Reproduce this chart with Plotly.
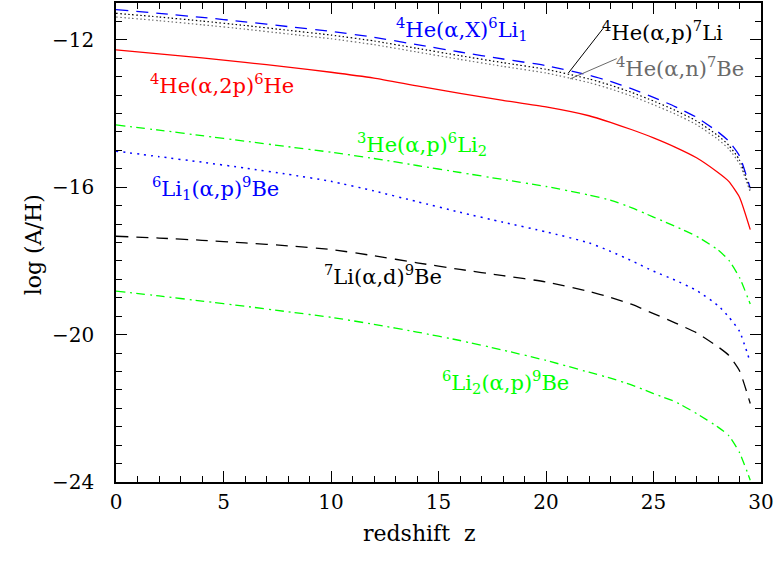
import plotly.graph_objects as go

# redshift grid
z = [0, 2, 4, 6, 8, 10, 12, 14, 16, 18, 20, 22, 23, 24, 25, 26, 27, 28, 28.5, 29, 29.5]

he4_ax_li6 = [-11.18, -11.28, -11.39, -11.51, -11.64, -11.77, -11.93, -12.13, -12.33, -12.52, -12.70,
              -12.96, -13.13, -13.33, -13.56, -13.81, -14.10, -14.50, -14.75, -15.15, -16.03]
he4_ap_li7 = [-11.28, -11.38, -11.49, -11.61, -11.74, -11.87, -12.03, -12.23, -12.43, -12.62, -12.80,
              -13.06, -13.23, -13.43, -13.66, -13.91, -14.20, -14.60, -14.86, -15.26, -16.08]
he4_an_be7 = [-11.38, -11.48, -11.59, -11.71, -11.84, -11.97, -12.13, -12.33, -12.53, -12.72, -12.90,
              -13.16, -13.33, -13.53, -13.76, -14.01, -14.30, -14.70, -14.96, -15.36, -16.13]
he4_a2p_he6 = [-12.27, -12.38, -12.49, -12.61, -12.74, -12.88, -13.04, -13.25, -13.45, -13.64, -13.82,
               -14.06, -14.24, -14.44, -14.66, -14.91, -15.20, -15.60, -15.84, -16.27, -17.15]
he3_ap_li6 = [-14.31, -14.45, -14.60, -14.75, -14.90, -15.05, -15.22, -15.41, -15.60, -15.79, -15.98,
              -16.21, -16.35, -16.56, -16.81, -17.06, -17.33, -17.70, -17.98, -18.45, -19.17]
li6_ap_be9 = [-15.02, -15.17, -15.32, -15.48, -15.65, -15.84, -16.10, -16.39, -16.68, -16.95, -17.21,
              -17.51, -17.74, -18.00, -18.28, -18.52, -18.80, -19.21, -19.52, -19.91, -20.75]
li7_ad_be9 = [-17.33, -17.38, -17.44, -17.51, -17.59, -17.69, -17.86, -18.05, -18.23, -18.40, -18.57,
              -18.83, -18.99, -19.18, -19.43, -19.68, -19.95, -20.33, -20.56, -20.98, -21.87]
li6b_ap_be9 = [-18.82, -18.95, -19.09, -19.23, -19.38, -19.53, -19.72, -19.93, -20.16, -20.42, -20.70,
               -21.02, -21.18, -21.37, -21.60, -21.82, -22.14, -22.51, -22.74, -23.20, -23.95]

x_ticks = [0, 5, 10, 15, 20, 25, 30]
y_ticks = [-24, -20, -16, -12]

FONT = "DejaVu Serif"
BLUE, RED, GREEN, BLACK, GRAY = "#0000ff", "#ff0000", "#00ff00", "#000000", "#6a6a6a"

series = [
    (he4_ax_li6, BLUE, "12px,8px", 1.3),
    (he4_ap_li7, BLACK, "1.5px,2.5px", 1.2),
    (he4_an_be7, GRAY, "1.5px,2.5px", 1.2),
    (he4_a2p_he6, RED, "solid", 1.3),
    (he3_ap_li6, GREEN, "9px,5px,2px,4px", 1.3),
    (li6_ap_be9, BLUE, "2px,5px", 1.5),
    (li7_ad_be9, BLACK, "12px,8px", 1.3),
    (li6b_ap_be9, GREEN, "9px,5px,2px,4px", 1.3),
]

fig = go.Figure()
for ys, col, dash, w in series:
    fig.add_trace(go.Scatter(x=z, y=ys, mode="lines",
                             line=dict(color=col, dash=dash, width=w, shape="spline", smoothing=0.5),
                             showlegend=False, hoverinfo="skip"))

labels = [
    ("<sup>4</sup>He(α,X)<sup>6</sup>Li<sub>1</sub>", 16.09, -11.70, BLUE),
    ("<sup>4</sup>He(α,p)<sup>7</sup>Li", 25.44, -11.75, BLACK),
    ("<sup>4</sup>He(α,n)<sup>7</sup>Be", 26.23, -12.73, GRAY),
    ("<sup>4</sup>He(α,2p)<sup>6</sup>He", 4.95, -13.19, RED),
    ("<sup>3</sup>He(α,p)<sup>6</sup>Li<sub>2</sub>", 14.21, -14.84, GREEN),
    ("<sup>6</sup>Li<sub>1</sub>(α,p)<sup>9</sup>Be", 4.63, -16.03, BLUE),
    ("<sup>7</sup>Li(α,d)<sup>9</sup>Be", 12.40, -18.39, BLACK),
    ("<sup>6</sup>Li<sub>2</sub>(α,p)<sup>9</sup>Be", 18.12, -21.29, GREEN),
]
for txt, x, y, col in labels:
    fig.add_annotation(x=x, y=y, xref="x", yref="y", text=txt, showarrow=False,
                       font=dict(family=FONT, size=21, color=col))

# pointer lines for the two overlapping dotted curves
fig.add_shape(type="line", x0=22.67, y0=-11.68, x1=21.04, y1=-12.90,
              line=dict(color=BLACK, width=1))
fig.add_shape(type="line", x0=23.29, y0=-12.51, x1=21.12, y1=-13.06,
              line=dict(color=GRAY, width=1))

# axis titles
fig.add_annotation(x=-0.149, y=0.495, xref="paper", yref="paper", text="log (A/H)",
                   textangle=-90, showarrow=False, font=dict(family=FONT, size=22, color="black"))
fig.add_annotation(x=(419 - 116) / 645, y=-(548 - 482) / 479, xref="paper", yref="paper",
                   text="redshift&nbsp;&nbsp;z", showarrow=False, font=dict(family=FONT, size=22, color="black"))

axis_common = dict(showgrid=False, zeroline=False, showline=True, linecolor="black", linewidth=1.5,
                   mirror="allticks", ticks="inside", ticklen=11, tickwidth=1.3, tickcolor="black",
                   automargin=False,
                   tickfont=dict(family=FONT, size=20, color="black"))

fig.update_xaxes(range=[0, 30], tickvals=x_ticks, ticktext=[str(v) for v in x_ticks],
                 minor=dict(dtick=1, ticks="inside", ticklen=6, tickcolor="black", tickwidth=1.2),
                 ticklabelstandoff=1, **axis_common)
fig.update_yaxes(range=[-24, -11], tickvals=y_ticks, ticktext=["\u2212" + str(-v) for v in y_ticks],
                 minor=dict(dtick=0.5, ticks="inside", ticklen=6, tickcolor="black", tickwidth=1.2),
                 ticklabelstandoff=16, **axis_common)

fig.update_layout(width=777, height=561, margin=dict(l=116, r=16, t=3, b=79, autoexpand=False),
                  paper_bgcolor="white", plot_bgcolor="white",
                  font=dict(family=FONT, color="black"))

fig.write_html("out.html", config={"displayModeBar": False},
               post_script="document.body.style.margin='0';")
